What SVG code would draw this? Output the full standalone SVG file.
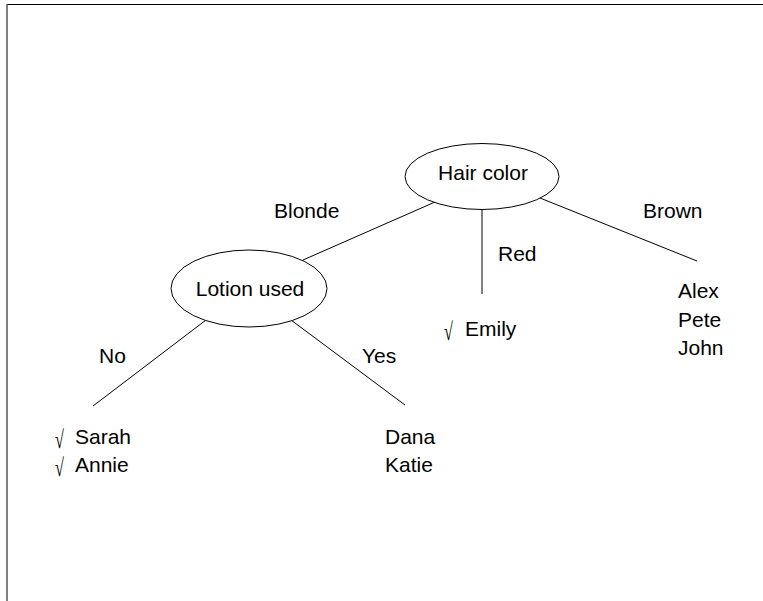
<svg xmlns="http://www.w3.org/2000/svg" width="763" height="601" viewBox="0 0 763 601">
<style>
text{font-family:"Liberation Sans",Arial,sans-serif;font-size:21px;fill:#000}
.chk{font-family:"Liberation Serif",serif;font-size:25px}
.node{fill:#fff;stroke:#000;stroke-width:1}
.edge{stroke:#000;stroke-width:1;fill:none}
</style>
<rect width="763" height="601" fill="#fff"/>
<line x1="7" y1="4.5" x2="763" y2="4.5" stroke="#000" stroke-width="1.2"/>
<line x1="7" y1="4" x2="7" y2="601" stroke="#555" stroke-width="1.5"/>
<g id="connectors">
<line class="edge" x1="435" y1="202" x2="303" y2="260"/>
<line class="edge" x1="482" y1="210" x2="482" y2="294"/>
<line class="edge" x1="540" y1="198" x2="697" y2="261"/>
<line class="edge" x1="206" y1="320" x2="93" y2="406"/>
<line class="edge" x1="291" y1="320" x2="405" y2="405"/>
<text x="274" y="218">Blonde</text>
<text x="498" y="261">Red</text>
<text x="643" y="218">Brown</text>
<text x="99" y="363">No</text>
<text x="362" y="363">Yes</text>
</g>
<g id="hair">
<ellipse class="node" cx="482" cy="176.5" rx="77" ry="33"/>
<text x="483" y="180" text-anchor="middle">Hair color</text>
</g>
<g id="lotion">
<ellipse class="node" cx="249" cy="288.5" rx="78" ry="38.5"/>
<text x="250" y="296" text-anchor="middle">Lotion used</text>
</g>
<g id="emily">
<text class="chk" transform="translate(444,340) scale(0.65,1)">√</text>
<text x="465" y="336">Emily</text>
</g>
<g id="brown-leaf">
<text x="678" y="298">Alex</text>
<text x="678" y="327">Pete</text>
<text x="678" y="355">John</text>
</g>
<g id="no-leaf">
<text class="chk" transform="translate(55,448) scale(0.65,1)">√</text>
<text x="75" y="444">Sarah</text>
<text class="chk" transform="translate(55,476) scale(0.65,1)">√</text>
<text x="75" y="472">Annie</text>
</g>
<g id="yes-leaf">
<text x="385" y="444">Dana</text>
<text x="385" y="472">Katie</text>
</g>
</svg>
